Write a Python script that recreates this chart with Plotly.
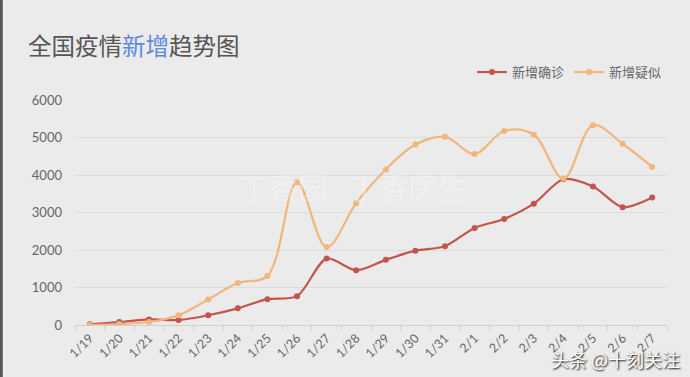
import plotly.graph_objects as go

dates = ["1/19", "1/20", "1/21", "1/22", "1/23", "1/24", "1/25", "1/26", "1/27", "1/28",
         "1/29", "1/30", "1/31", "2/1", "2/2", "2/3", "2/4", "2/5", "2/6", "2/7"]
confirmed = [17, 77, 149, 131, 259, 444, 688, 769, 1771, 1459,
             1737, 1982, 2102, 2590, 2829, 3235, 3887, 3694, 3143, 3399]
suspected = [0, 27, 80, 257, 680, 1118, 1309, 3806, 2077, 3248,
             4148, 4812, 5019, 4562, 5173, 5072, 3900, 5328, 4833, 4214]

RED = "#c4554b"
ORANGE = "#f0b67c"
BG = "#ebebeb"
FONT = "Lato, 'Noto Sans CJK SC', sans-serif"
CJK = "'Noto Sans CJK SC', sans-serif"

fig = go.Figure()
fig.add_trace(go.Scatter(
    x=dates, y=confirmed, name="新增确诊", mode="lines+markers",
    line=dict(color=RED, width=2.2, shape="spline", smoothing=0.8),
    marker=dict(color=RED, size=6),
))
fig.add_trace(go.Scatter(
    x=dates, y=suspected, name="新增疑似", mode="lines+markers",
    line=dict(color=ORANGE, width=2.2, shape="spline", smoothing=1.0),
    marker=dict(color=ORANGE, size=6),
))

fig.update_layout(
    width=690, height=377,
    paper_bgcolor=BG, plot_bgcolor=BG,
    margin=dict(l=75, r=23, t=100, b=52),
    font=dict(family=FONT, color="#666666", size=12),
    showlegend=True,
    legend=dict(orientation="h", x=1.0, xanchor="right", y=1.124, yanchor="middle",
                font=dict(size=13, color="#666666", family=CJK),
                bgcolor="rgba(0,0,0,0)", itemwidth=30, tracegroupgap=0),
    xaxis=dict(
        type="category", range=[-0.5, len(dates) - 0.5],
        tickangle=-45, showgrid=False, zeroline=False,
        showline=True, linecolor="#d0d0d0", linewidth=1,
        ticks="outside", tickson="boundaries", ticklen=4, tickcolor="#d0d0d0",
        tickfont=dict(size=12.5, color="#666666"),
    ),
    yaxis=dict(
        range=[0, 6000], tickvals=[0, 1000, 2000, 3000, 4000, 5000, 6000],
        showgrid=True, gridcolor="#dcdcdc", gridwidth=1, zeroline=False,
        showline=False, ticks="", ticklabelstandoff=12,
        tickfont=dict(size=13, color="#666666"),
    ),
    annotations=[
        dict(text="全国疫情<span style='color:#5b8ad8'>新增</span>趋势图",
             xref="paper", yref="paper", x=-0.082, y=1.244, xanchor="left", yanchor="middle",
             showarrow=False, font=dict(size=23.5, color="#555555", family=CJK)),
        dict(text="丁香园   丁香医生", xref="paper", yref="paper", x=0.47, y=0.62,
             xanchor="center", yanchor="middle", showarrow=False,
             font=dict(size=30, color="rgba(255,255,255,0.3)", family=CJK)),
        dict(text="头条 @十刻关注", xref="paper", yref="paper", x=1.025, y=-0.15,
             xanchor="right", yanchor="middle", showarrow=False,
             font=dict(size=18, color="white", family=CJK,
                       shadow="1px 1px 2px #000000")),
    ],
    shapes=[
        dict(type="rect", xref="paper", yref="paper", x0=-0.127, x1=-0.122, y0=-0.3, y1=1.5,
             fillcolor="#555555", line=dict(width=0), layer="above"),
    ],
)

fig.write_html("out.html")
